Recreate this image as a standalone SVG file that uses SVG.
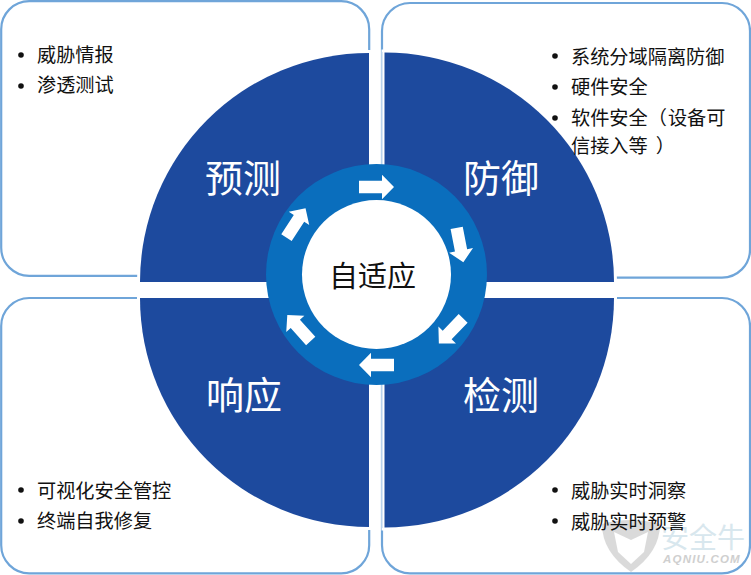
<svg xmlns="http://www.w3.org/2000/svg" width="751" height="575" viewBox="0 0 751 575">
<style>
text{font-family:"Noto Sans CJK SC","Liberation Sans",sans-serif}
.panel{fill:#fff;stroke:#6fa5d9;stroke-width:2.2}
.q{fill:#1d4a9e;stroke:#fff;stroke-width:6;paint-order:stroke}
.big{fill:#fff;font-size:38px;text-anchor:middle}
.li{fill:#111;font-size:19.2px}
.arrow{fill:#fff}
</style>
<defs>
<path id="ar" class="arrow" d="M-17.5 -6.2H5.5V-12.2L17.5 0L5.5 12.2V6.2H-17.5Z"/>
</defs>
<rect width="751" height="575" fill="#fff"/>
<g id="panel-tl"><rect class="panel" x="1.2" y="1.2" width="368" height="274.6" rx="28"/></g>
<g id="panel-tr"><rect class="panel" x="382" y="3" width="368" height="274.6" rx="28"/></g>
<g id="panel-bl"><rect class="panel" x="1.2" y="298" width="368" height="275.3" rx="28"/></g>
<g id="panel-br"><rect class="panel" x="382" y="298" width="368" height="275.3" rx="28"/></g>
<g id="quad-yuce"><path class="q" d="M369 53A229 229 0 0 0 140 282H369Z"/><text class="big" x="243" y="192">预测</text></g>
<g id="quad-fangyu"><path class="q" d="M384.5 52.500A229.500 229.500 0 0 1 614 282H384.500Z"/><text class="big" x="501" y="192">防御</text></g>
<g id="quad-xiangying"><path class="q" d="M369 527A229 229 0 0 1 140 298H369Z"/><text class="big" x="244" y="409">响应</text></g>
<g id="quad-jiance"><path class="q" d="M384.500 527.500A229.500 229.500 0 0 0 614 298H384.500Z"/><text class="big" x="501" y="409">检测</text></g>
<path d="M382.500 52V528" stroke="#dbe7f4" stroke-width="1" fill="none"/>
<g id="center">
<circle cx="376.500" cy="274.500" r="110.500" fill="#0a6ebd"/>
<circle cx="376.500" cy="274.500" r="74.500" fill="#fff"/>
<text x="372.500" y="287" font-size="29" fill="#111" text-anchor="middle">自适应</text>
</g>
<g id="connectors">
<use href="#ar" transform="translate(376.500 187)"/>
<use href="#ar" transform="translate(460 245) rotate(79)"/>
<use href="#ar" transform="translate(451 331) rotate(134)"/>
<use href="#ar" transform="translate(376.500 365) rotate(180)"/>
<use href="#ar" transform="translate(299 328) rotate(-132)"/>
<use href="#ar" transform="translate(296 223) rotate(-57)"/>
</g>
<g id="watermark" opacity="0.8">
<path d="M602 524Q630 516 660 524Q660 552 631 572Q602 552 602 524Z" fill="#d2d2d2"/>
<path d="M614 532L631 540L648 532L644 552L631 564L618 552Z" fill="#fff"/>
<text x="661" y="548" font-size="28" fill="#cfe2ea">安全牛</text>
<text x="663" y="563" font-size="11.500" font-style="italic" font-weight="bold" letter-spacing="1.200" fill="#c4c4c4" style="font-family:'Liberation Sans',sans-serif">AQNIU.COM</text>
</g>
<g id="list-tl" class="li">
<circle cx="21" cy="55" r="2.800"/><text x="37" y="62">威胁情报</text>
<circle cx="21" cy="86" r="2.800"/><text x="37" y="92">渗透测试</text>
</g>
<g id="list-tr" class="li">
<circle cx="555" cy="56" r="2.800"/><text x="571" y="64">系统分域隔离防御</text>
<circle cx="555" cy="87" r="2.800"/><text x="571" y="94">硬件安全</text>
<circle cx="555" cy="118" r="2.800"/><text x="571" y="125">软件安全（<tspan dx="1">设备可</tspan></text>
<text x="571" y="153">信接入等<tspan dx="8">）</tspan></text>
</g>
<g id="list-bl" class="li">
<circle cx="21" cy="490" r="2.800"/><text x="37" y="498">可视化安全管控</text>
<circle cx="21" cy="521" r="2.800"/><text x="37" y="528">终端自我修复</text>
</g>
<g id="list-br" class="li">
<circle cx="555" cy="490" r="2.800"/><text x="571" y="498">威胁实时洞察</text>
<circle cx="555" cy="521" r="2.800"/><text x="571" y="529">威胁实时预警</text>
</g>
</svg>
